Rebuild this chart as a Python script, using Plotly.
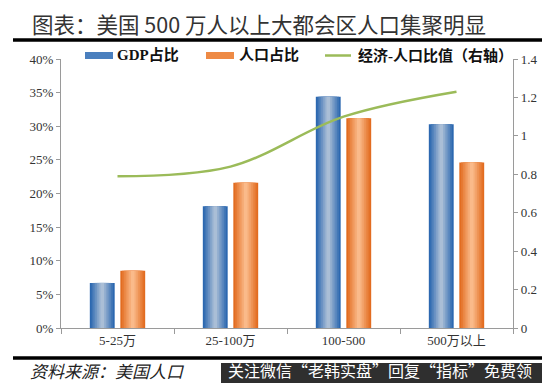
import plotly.graph_objects as go

categories = ["5-25万", "25-100万", "100-500", "500万以上"]
gdp_share = [6.7, 18.1, 34.4, 30.3]
pop_share = [8.5, 21.6, 31.2, 24.6]
ratio = [0.79, 0.84, 1.10, 1.23]
left_ticks = [0, 5, 10, 15, 20, 25, 30, 35, 40]
left_labels = ["0%", "5%", "10%", "15%", "20%", "25%", "30%", "35%", "40%"]
right_ticks = [0, 0.2, 0.4, 0.6, 0.8, 1.0, 1.2, 1.4]

W, H = 550, 383
L, R, T, B = 53, 505, 51, 320


def px_x(px):
    return (px - L) / (R - L)


def px_y(py):
    return (B - py) / (B - T)


def mix(c1, c2, t):
    return "rgb(%d,%d,%d)" % tuple(round(a + (b - a) * t) for a, b in zip(c1, c2))


fig = go.Figure()

BAR_W = 0.22
NL = 7
series = [
    (gdp_share, -0.135, (44, 104, 176), (170, 190, 214), "GDP占比"),
    (pop_share, 0.135, (226, 108, 32), (250, 186, 138), "人口占比"),
]
for vals, center, edge, mid, name in series:
    for k in range(NL):
        w = BAR_W * (1 - k / NL)
        fig.add_trace(go.Bar(
            x=categories, y=vals, width=w, offset=center - w / 2,
            marker=dict(color=mix(edge, mid, k / (NL - 1)), line=dict(width=0)),
            name=name, showlegend=False, hoverinfo="skip" if k else None,
        ))

fig.add_trace(go.Scatter(
    x=categories, y=ratio, yaxis="y2", mode="lines",
    line=dict(color="#9BBB59", width=2.5, shape="spline", smoothing=1.0),
    name="经济-人口比值（右轴）", showlegend=False,
))

axis_font = dict(family="Liberation Serif, Times New Roman, serif", size=13, color="#333")
cjk = "Noto Sans CJK SC"

fig.update_layout(
    width=W, height=H,
    margin=dict(l=L, r=W - R, t=T, b=H - B),
    paper_bgcolor="white", plot_bgcolor="white",
    barmode="overlay",
    showlegend=False,
    xaxis=dict(type="category", range=[-0.5, 3.5], showline=True, linecolor="#9a9a9a",
               linewidth=1.2, ticks="outside", tickson="boundaries", ticklen=5,
               tickcolor="#9a9a9a", showgrid=False, zeroline=False,
               tickfont=dict(family="Liberation Serif, " + cjk, size=13, color="#333")),
    yaxis=dict(range=[0, 40], tickvals=left_ticks, ticktext=left_labels, showline=True,
               linecolor="#9a9a9a", linewidth=1.2, ticks="outside", ticklen=4,
               tickcolor="#9a9a9a", showgrid=False, zeroline=False, tickfont=axis_font),
    yaxis2=dict(range=[0, 1.4], tickvals=right_ticks, overlaying="y", side="right",
                showline=True, linecolor="#9a9a9a", linewidth=1.2, ticks="outside",
                ticklen=4, tickcolor="#9a9a9a", showgrid=False, zeroline=False,
                tickfont=axis_font),
    title=dict(text="图表：美国 500 万人以上大都会区人口集聚明显", x=24 / W, xanchor="left",
               y=1 - 17 / H, yanchor="middle",
               font=dict(family=cjk, size=21.5, color="#333")),
)

shapes = [
    dict(type="line", xref="paper", yref="paper", x0=px_x(5), x1=px_x(545),
         y0=px_y(32), y1=px_y(32), line=dict(color="black", width=3.5)),
    dict(type="line", xref="paper", yref="paper", x0=px_x(5), x1=px_x(545),
         y0=px_y(350), y1=px_y(350), line=dict(color="black", width=3.5)),
    # custom legend swatches
    dict(type="rect", xref="paper", yref="paper", x0=px_x(77), x1=px_x(105),
         y0=px_y(51), y1=px_y(44), fillcolor="#4A7FBE", line=dict(width=0)),
    dict(type="rect", xref="paper", yref="paper", x0=px_x(198), x1=px_x(226),
         y0=px_y(51), y1=px_y(44), fillcolor="#EE8A45", line=dict(width=0)),
    dict(type="line", xref="paper", yref="paper", x0=px_x(317), x1=px_x(343),
         y0=px_y(47.5), y1=px_y(47.5), line=dict(color="#9BBB59", width=2.5)),
    # watermark box
    dict(type="rect", xref="paper", yref="paper", x0=px_x(213), x1=px_x(552),
         y0=px_y(385), y1=px_y(355), fillcolor="#2f2f2f", line=dict(width=0)),
]

leg_font = dict(family="Liberation Serif, " + cjk, size=15, color="#111")
annotations = [
    dict(text="<b>GDP占比</b>", x=px_x(107), y=px_y(47.5), xanchor="left"),
    dict(text="<b>人口占比</b>", x=px_x(229), y=px_y(47.5), xanchor="left"),
    dict(text="<b>经济-人口比值（右轴）</b>", x=px_x(348), y=px_y(47.5), xanchor="left"),
]
annotations = [dict(a, xref="paper", yref="paper", yanchor="middle", showarrow=False,
                    font=leg_font) for a in annotations]
annotations.append(dict(text="<i>资料来源：美国人口</i>", xref="paper", yref="paper",
                        x=px_x(20), y=px_y(362), xanchor="left", yanchor="middle",
                        showarrow=False, font=dict(family=cjk, size=17, color="#222")))
annotations.append(dict(text="关注微信“老韩实盘”回复“指标”免费领", xref="paper", yref="paper",
                        x=px_x(218), y=px_y(362), xanchor="left", yanchor="middle",
                        showarrow=False, font=dict(family=cjk, size=16, color="white")))

fig.update_layout(shapes=shapes, annotations=annotations)
fig.write_html("out.html")
